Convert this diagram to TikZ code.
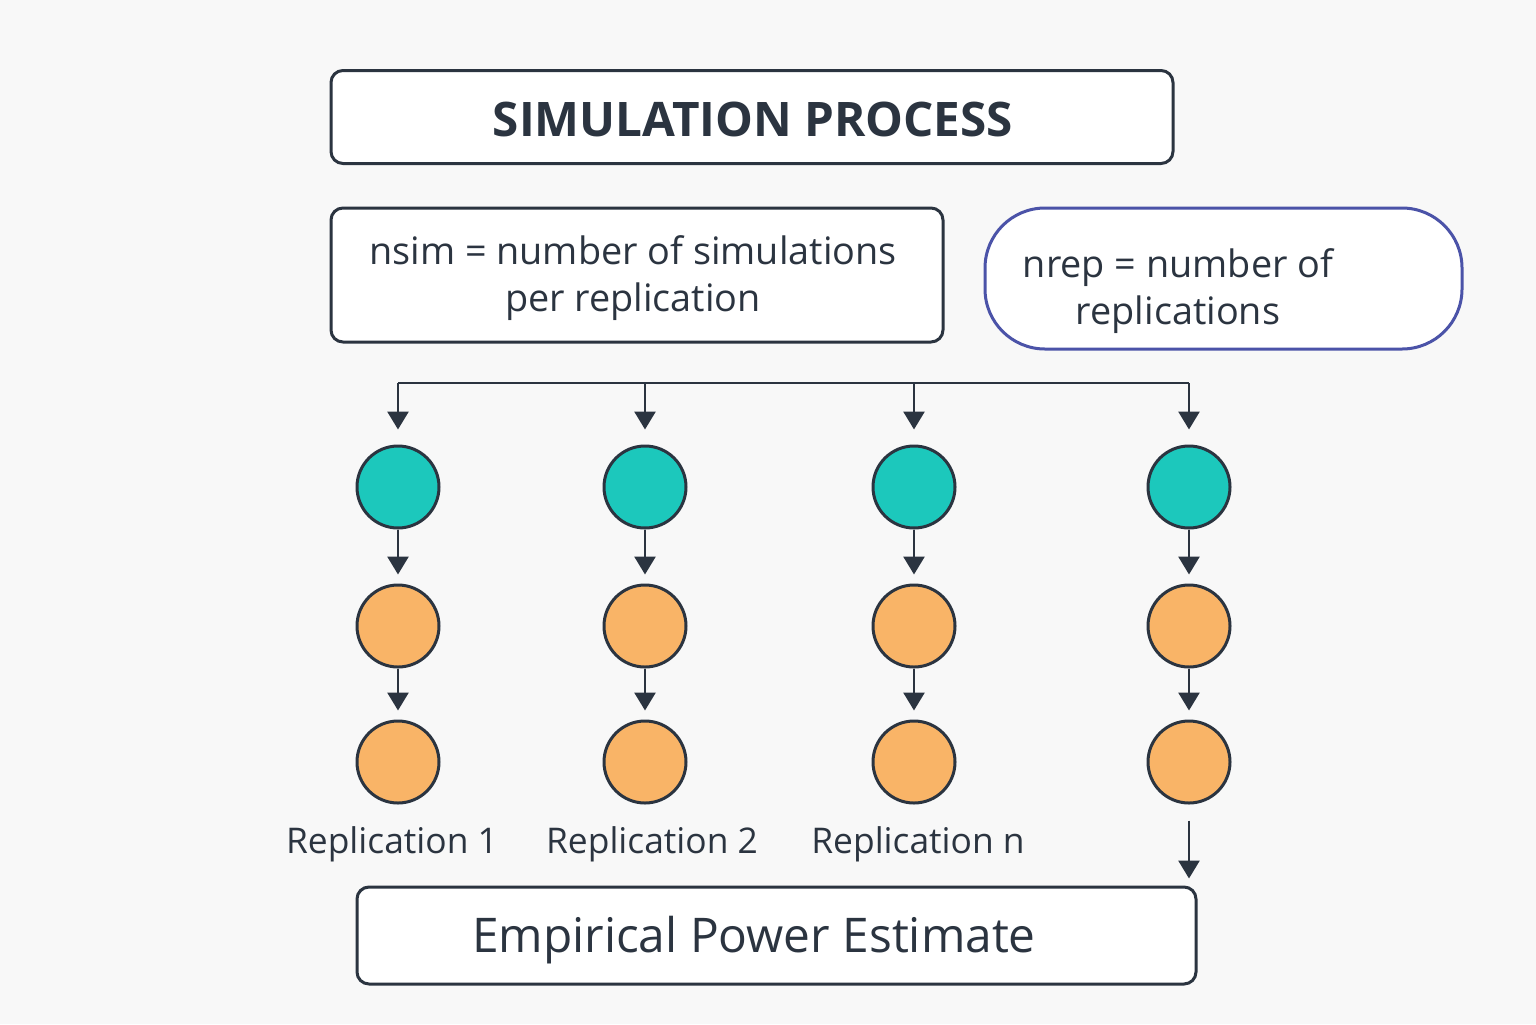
\documentclass[tikz,border=0pt]{standalone}
\usepackage{fontspec}
\setmainfont{Open Sans}
\usetikzlibrary{arrows.meta, positioning}

\definecolor{inkgray}{HTML}{2B3440}
\definecolor{tealfill}{HTML}{1CC8BC}
\definecolor{orangefill}{HTML}{F9B467}
\definecolor{repblue}{HTML}{4B53A8}
\definecolor{bggray}{HTML}{F8F8F8}

\begin{document}
\begin{tikzpicture}[
    x=0.5pt, y=-0.5pt,
    box/.style={draw=inkgray, fill=white, line width=1.5pt, rounded corners=6pt, inner sep=0pt},
    dot/.style={circle, draw=inkgray, line width=1.5pt, minimum size=41pt, inner sep=0pt},
    arr/.style={draw=inkgray, line width=1.4pt, -{Triangle[width=10.5pt,length=9pt]}},
    lbl/.style={text=inkgray, inner sep=0pt, align=center}
]
    % background, fixes the page size
    \fill[bggray] (0,0) rectangle (1536,1024);

    % title
    \node[box, minimum width=421pt, minimum height=46.5pt] (title) at (752,117) {};
    \node[lbl, font=\fontsize{23.8}{28}\selectfont\bfseries] (titletext) at (753,119) {SIMULATION PROCESS};

    % the two parameter boxes
    \node[box, minimum width=306pt, minimum height=67pt] (nsim) at (637,275) {};
    \node[lbl, font=\fontsize{18.9}{23.5}\selectfont] (nsimtext) at (633,278) {nsim = number of simulations\\per replication};
    \node[box, draw=repblue, rounded corners=30pt, minimum width=238.5pt, minimum height=70.5pt] (nrep) at (1223.5,278.5) {};
    \node[lbl, font=\fontsize{18.9}{23.5}\selectfont] (nreptext) at (1178,291) {nrep = number of\\replications};

    % bus line over the replications
    \coordinate (busleft) at (398,383);
    \coordinate (busright) at (1189,383);
    \draw[inkgray, line width=1.4pt] (busleft) -- (busright);

    % one column per replication
    \foreach \i/\x in {1/398, 2/645, 3/914, 4/1189} {
        \coordinate (drop\i) at (\x,383);
        \node[dot, fill=tealfill] (top\i) at (\x,487) {};
        \node[dot, fill=orangefill] (mid\i) at (\x,626) {};
        \node[dot, fill=orangefill] (low\i) at (\x,762) {};
        \draw[arr, shorten >=7.5pt] (drop\i) -- (top\i);
        \draw[arr, shorten >=4.5pt] (top\i) -- (mid\i);
        \draw[arr, shorten >=4.5pt] (mid\i) -- (low\i);
    }

    % labels under the columns
    \node[lbl, font=\fontsize{17.7}{21}\selectfont] (rep1) at (392,844) {Replication 1};
    \node[lbl, font=\fontsize{17.7}{21}\selectfont] (rep2) at (652,844) {Replication 2};
    \node[lbl, font=\fontsize{17.7}{21}\selectfont] (repn) at (918,844) {Replication n};

    % result
    \node[box, minimum width=419.5pt, minimum height=48.5pt] (estimate) at (776.5,935.5) {};
    \node[lbl, font=\fontsize{23.9}{28}\selectfont] (estimatetext) at (754,940) {Empirical Power Estimate};
    \draw[arr, shorten <=8pt, shorten >=3.5pt] (low4) -- (low4 |- estimate.north);
\end{tikzpicture}
\end{document}
